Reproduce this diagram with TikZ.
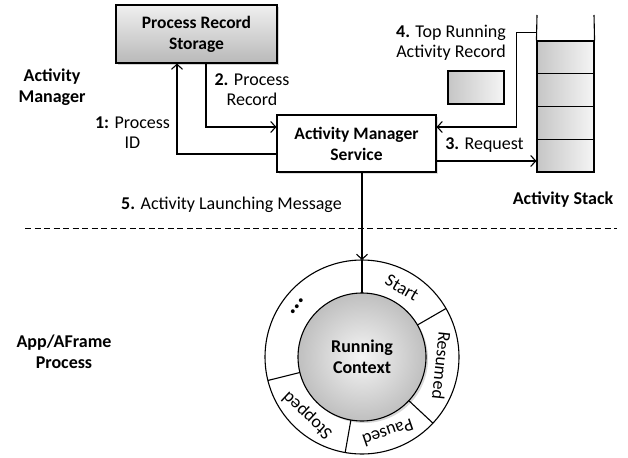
\documentclass[tikz,border=0pt]{standalone}
\usepackage{fontspec}
\setmainfont{Carlito}
\usetikzlibrary{arrows.meta,shadows}

\begin{document}
\begin{tikzpicture}[x=1pt,y=1pt,line width=1.1pt,
	>={Straight Barb[length=5pt,width=11pt]}]
	\begin{scope}[scale=1]
	
	\tikzstyle{mybox}=[rectangle,
	draw=black,
	inner sep=0pt,
	align=center,
	font=\fontsize{17.5}{21}\selectfont\bfseries
	]
	\tikzstyle{graybox}=[mybox,
	top color=gray!12,
	bottom color=gray!55,
	drop shadow={opacity=0.35,shadow xshift=2pt,shadow yshift=-2pt}
	]
	\tikzstyle{stackcell}=[rectangle,
	draw=black,
	left color=gray!45,
	right color=gray!8,
	minimum width=57pt,
	minimum height=32.75pt,
	inner sep=0pt
	]
	\tikzstyle{mylabel}=[align=center,
	inner sep=0pt,
	font=\fontsize{18}{20}\selectfont
	]
	\tikzstyle{headlabel}=[mylabel,
	font=\fontsize{18}{21}\selectfont\bfseries
	]
	\tikzstyle{ringlabel}=[inner sep=0pt,
	font=\fontsize{18}{20}\selectfont
	]
	
	\useasboundingbox (0,0) rectangle (628,-457);
	
	\coordinate (pstorage) at (196.5, -34);
	\coordinate (pams) at (356.5, -143.5);
	\coordinate (precord) at (476, -87.5);
	\coordinate (pring) at (362, -357);
	
	% boxes
	\node[graybox, minimum width=161pt, minimum height=58pt] (storage) at (pstorage) {Process Record\\Storage};
	\node[mybox, fill=white, minimum width=159pt, minimum height=57pt,
		drop shadow={opacity=0.25,shadow xshift=2pt,shadow yshift=-2pt}] (ams) at (pams) {Activity Manager\\Service};
	\node[stackcell, minimum width=56pt, minimum height=33pt] (record) at (precord) {};
	
	% activity stack
	\foreach \i in {0,...,3}
		\node[stackcell] (cell\i) at (565.5, -57.4-32.75*\i) {};
	\coordinate (stackl) at (537, -15);
	\coordinate (stackr) at (594, -15);
	\draw (stackl) -- (cell0.north west);
	\draw (stackr) -- (cell0.north east);
	
	% context ring
	\node[circle, draw=black, fill=white, minimum size=194pt, inner sep=0pt, outer sep=0pt] (ring) at (pring) {};
	\node[circle, draw=black, inner color=gray!8, outer color=gray!50, minimum size=128pt, inner sep=0pt, outer sep=0pt,
		align=center, font=\fontsize{18}{21}\selectfont\bfseries,
		drop shadow={opacity=0.3,shadow xshift=2pt,shadow yshift=-2pt}] (ctx) at (pring) {Running\\Context};
	\foreach \a in {90,30,317,260,194}
		\draw (ctx.\a) -- (ring.\a);
	
	\path (ring.center) ++(60:80) node[ringlabel, rotate=-30] (lstart) {Start};
	\path (ring.center) ++(-6:80) node[ringlabel, rotate=-96] (lresumed) {Resumed};
	\path (ring.center) ++(-71:80) node[ringlabel, rotate=-161] (lpaused) {Paused};
	\path (ring.center) ++(-133:80) node[ringlabel, rotate=137] (lstopped) {Stopped};
	\path (ring.center) ++(142:82) node[ringlabel, rotate=52, font=\fontsize{26}{26}\selectfont\bfseries] (ldots) {...};
	
	% connectors
	\coordinate (req) at ([yshift=-17.5pt]ams.east);
	\coordinate (toprec) at ([yshift=16.5pt]ams.east);
	\coordinate (topout) at ([yshift=8pt]cell0.north west);
	
	\draw[->] ([yshift=-10.5pt]ams.west) -| ([xshift=-19.5pt]storage.south);
	\draw[->] ([xshift=9.5pt]storage.south) |- ([yshift=16.5pt]ams.west);
	\draw[->] (req) -- (req -| cell3.west);
	\draw[->] (topout) -- ++(-20,0) |- (toprec);
	\draw[->] (ams.south -| ring.north) -- (ring.north);
	
	% separator
	\coordinate (sepl) at (25, -228);
	\coordinate (sepr) at (617, -228);
	\draw[dash pattern=on 6pt off 3.5pt, line width=1pt] (sepl) -- (sepr);
	
	% labels
	\node[mylabel] (l1) at (132.5, -132.5) {\textbf{1:} Process\\ID};
	\node[mylabel] (l2) at (252, -89.5) {\textbf{2.} Process\\Record};
	\node[mylabel] (l3) at (484.5, -145) {\textbf{3.} Request};
	\node[mylabel] (l4) at (451, -42.5) {\textbf{4.} Top Running\\Activity Record};
	\node[mylabel] (l5) at (231.5, -205) {\textbf{5.} Activity Launching Message};
	
	\node[headlabel] (lam) at (52, -87) {Activity\\Manager};
	\node[headlabel] (lapp) at (64, -352) {App/AFrame\\Process};
	\node[headlabel] (lstack) at (563, -200) {Activity Stack};
	
	\end{scope}
\end{tikzpicture}
\end{document}
